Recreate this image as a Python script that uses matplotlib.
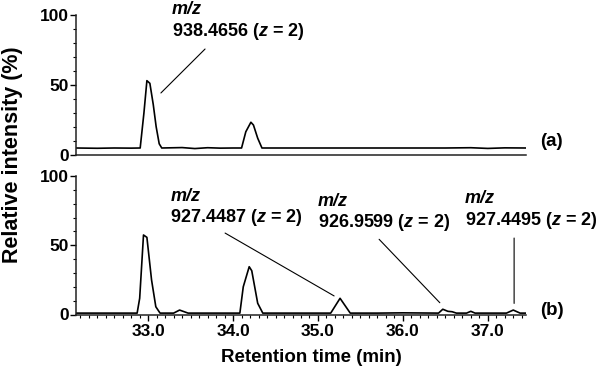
import matplotlib
matplotlib.use("Agg")
import matplotlib.pyplot as plt
from matplotlib.ticker import MultipleLocator, FixedLocator

plt.rcParams['font.family'] = ['Liberation Sans', 'DejaVu Sans']
plt.rcParams['font.weight'] = 'bold'
plt.rcParams['mathtext.fontset'] = 'custom'
plt.rcParams['mathtext.rm'] = 'Liberation Sans:bold'
plt.rcParams['mathtext.it'] = 'Liberation Sans:bold:italic'
plt.rcParams['mathtext.bf'] = 'Liberation Sans:bold'

# ---- data (retention time in min, relative intensity in %) ----
time_a = [32.15, 32.40, 32.60, 32.80, 32.906, 32.95, 32.985, 33.02, 33.06, 33.094,
          33.13, 33.16, 33.40, 33.55, 33.70, 33.85, 34.00, 34.10, 34.15, 34.21,
          34.24, 34.29, 34.34, 34.60, 35.00, 35.50, 36.00, 36.50, 36.80, 37.00,
          37.20, 37.45]
int_a = [5.0, 4.8, 5.0, 4.9, 5.0, 30.0, 53.1, 51.2, 36.0, 20.2,
         8.0, 5.0, 5.3, 4.6, 5.2, 4.9, 5.0, 5.0, 16.6, 23.4,
         21.4, 12.0, 5.0, 5.0, 5.0, 5.0, 5.0, 5.0, 5.2, 4.7,
         5.1, 5.0]

time_b = [32.15, 32.50, 32.87, 32.90, 32.945, 32.985, 33.04, 33.09, 33.14, 33.30,
          33.37, 33.47, 33.70, 34.00, 34.08, 34.12, 34.19, 34.22, 34.29, 34.35,
          34.70, 35.00, 35.15, 35.26, 35.38, 35.70, 36.00, 36.42, 36.47, 36.53,
          36.58, 36.63, 36.75, 36.80, 36.85, 37.00, 37.22, 37.30, 37.38, 37.45]
int_b = [1.0, 1.0, 1.0, 11.7, 57.4, 55.7, 24.9, 5.6, 1.0, 1.0,
         3.2, 1.0, 1.0, 1.0, 1.0, 20.0, 34.5, 31.6, 8.1, 1.0,
         1.0, 1.0, 1.0, 11.7, 1.0, 1.0, 1.2, 1.0, 3.8, 2.3,
         2.0, 1.0, 1.0, 2.3, 1.0, 1.0, 1.0, 3.2, 1.0, 1.0]

x_range = (32.15, 37.45)
x_major = [33.0, 34.0, 35.0, 36.0, 37.0]
x_labels = ["33.0", "34.0", "35.0", "36.0", "37.0"]
y_major = [0, 50, 100]

FS_TICK = 12.5
FS_ANN = 13
fig = plt.figure(figsize=(5.98, 3.69), dpi=100)
W, H = 598, 369
left, right = 76 / W, 526 / W
ax_a = fig.add_axes([left, 1 - 155 / H, right - left, (155 - 15) / H])
ax_b = fig.add_axes([left, 1 - 314.5 / H, right - left, (314.5 - 176) / H])

for ax in (ax_a, ax_b):
    ax.set_xlim(*x_range)
    ax.set_ylim(0, 100)
    for s in ('top', 'right'):
        ax.spines[s].set_visible(False)
    for s in ('left', 'bottom'):
        ax.spines[s].set_linewidth(1.1)
        ax.spines[s].set_color('#222222')
    ax.yaxis.set_major_locator(FixedLocator(y_major))
    ax.yaxis.set_minor_locator(MultipleLocator(10))
    ax.tick_params(axis='y', which='major', length=4, width=1.0, direction='out',
                   labelsize=FS_TICK, pad=1)
    ax.tick_params(axis='y', which='minor', length=2.5, width=0.8, direction='out')
    ax.set_yticklabels([str(v) for v in y_major], fontweight='bold')

ax_a.plot(time_a, int_a, color='black', lw=1.2)
ax_b.plot(time_b, int_b, color='black', lw=1.2)

ax_a.set_xticks([])
ax_a.tick_params(axis='x', which='both', length=0)

ax_b.xaxis.set_major_locator(FixedLocator(x_major))
ax_b.xaxis.set_minor_locator(MultipleLocator(0.1))
ax_b.set_xticklabels(x_labels, fontweight='bold')
ax_b.tick_params(axis='x', which='major', length=4, width=1.0, labelsize=FS_TICK, pad=3)
ax_b.tick_params(axis='x', which='minor', length=2.5, width=0.8)

line_kw = dict(arrowstyle='-', lw=0.8, color='black', shrinkA=0, shrinkB=0)
txt_kw = dict(fontsize=FS_ANN, fontweight='bold', ha='left', va='center', clip_on=False)

# top annotation
ax_a.text(33.28, 103.6, 'm/z', style='italic', **txt_kw)
ax_a.text(33.28, 87.9, r'938.4656 ($z$ = 2)', **txt_kw)
ax_a.annotate('', xy=(33.15, 44.3), xytext=(33.67, 75.7), arrowprops=line_kw,
              annotation_clip=False)
ax_a.text(37.75, 9.3, '(a)', fontsize=13.5, fontweight='bold', ha='center', va='center',
          clip_on=False)

# bottom annotations
ax_b.text(33.26, 85.1, 'm/z', style='italic', **txt_kw)
ax_b.text(33.26, 69.7, r'927.4487 ($z$ = 2)', **txt_kw)
ax_b.annotate('', xy=(35.19, 13.4), xytext=(33.906, 58.8), arrowprops=line_kw,
              annotation_clip=False)

ax_b.text(35.0, 81.4, 'm/z', style='italic', **txt_kw)
ax_b.text(35.0, 66.1, r'926.9599 ($z$ = 2)', **txt_kw)
ax_b.annotate('', xy=(36.435, 8.5), xytext=(35.72, 54.3), arrowprops=line_kw,
              annotation_clip=False)

ax_b.text(36.73, 83.4, 'm/z', style='italic', **txt_kw)
ax_b.text(36.73, 67.7, r'927.4495 ($z$ = 2)', **txt_kw)
ax_b.annotate('', xy=(37.31, 8.0), xytext=(37.31, 55.2), arrowprops=line_kw,
              annotation_clip=False)
ax_b.text(37.76, 3.2, '(b)', fontsize=13.5, fontweight='bold', ha='center', va='center',
          clip_on=False)

fig.text(13 / W, 1 - 155 / H, 'Relative intensity (%)', rotation=90, ha='center',
         va='center', fontsize=15.5, fontweight='bold')
fig.text(311 / W, 1 - 358 / H, 'Retention time (min)', ha='center', va='center',
         fontsize=13.5, fontweight='bold')

fig.savefig('out.png', dpi=100)
